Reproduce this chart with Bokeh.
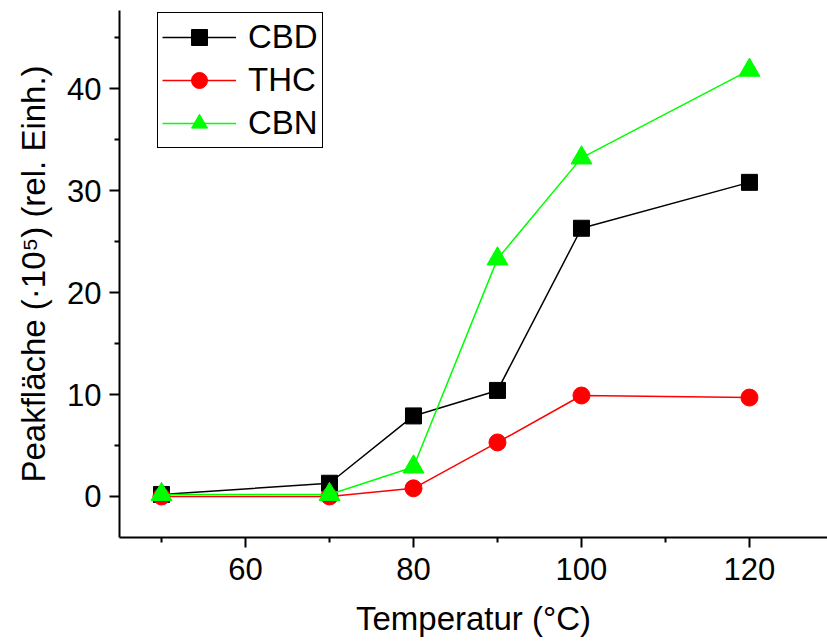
from bokeh.plotting import figure
from bokeh.models import Range1d, Legend, LegendItem, FixedTicker
from bokeh.embed import file_html
from bokeh.resources import INLINE

temperature = [50, 70, 80, 90, 100, 120]
cbd = [0.2, 1.3, 7.9, 10.4, 26.3, 30.8]
thc = [0.0, 0.0, 0.8, 5.3, 9.9, 9.7]
cbn = [0.2, 0.2, 2.9, 23.3, 33.2, 41.8]

x_ticks = [60, 80, 100, 120]
x_minor = [50, 70, 90, 110]
y_ticks = [0, 10, 20, 30, 40]
y_minor = [-5, 5, 15, 25, 35, 45]

FONT = "Liberation Sans"

p = figure(width=827, height=642, output_backend="svg", toolbar_location=None,
           x_range=Range1d(45, 129.29), y_range=Range1d(-4.02, 47.65),
           min_border_left=119, min_border_right=0, min_border_top=10, min_border_bottom=105)
p.outline_line_color = None
p.grid.visible = False
p.background_fill_color = "white"
p.border_fill_color = "white"

l1 = p.line(temperature, cbd, line_color="black", line_width=1.5)
m1 = p.scatter(temperature, cbd, marker="square", size=16, fill_color="black", line_color="black")
l2 = p.line(temperature, thc, line_color="#ff0000", line_width=1.5)
m2 = p.scatter(temperature, thc, marker="circle", size=17, fill_color="#ff0000", line_color="#ff0000")
l3 = p.line(temperature, cbn, line_color="#00ff00", line_width=1.5)
m3 = p.scatter(temperature, cbn, marker="triangle", size=21, fill_color="#00ff00", line_color="#00ff00")

for ax in (p.xaxis[0], p.yaxis[0]):
    ax.axis_line_width = 2
    ax.major_tick_line_width = 2
    ax.minor_tick_line_width = 2
    ax.major_tick_out = 10
    ax.major_tick_in = 0
    ax.minor_tick_out = 5
    ax.minor_tick_in = 0
    ax.major_label_text_font = FONT
    ax.major_label_text_font_size = "31px"
    ax.major_label_text_color = "black"
    ax.axis_label_text_font = FONT
    ax.axis_label_text_font_size = "33px"
    ax.axis_label_text_font_style = "normal"
    ax.axis_label_text_color = "black"

p.xaxis[0].ticker = FixedTicker(ticks=x_ticks, minor_ticks=x_minor)
p.yaxis[0].ticker = FixedTicker(ticks=y_ticks, minor_ticks=y_minor)
p.xaxis[0].axis_label = "Temperatur (°C)"
p.yaxis[0].axis_label = "Peakfläche (·10⁵) (rel. Einh.)"
p.xaxis[0].major_label_standoff = 10
p.xaxis[0].axis_label_standoff = 17
p.yaxis[0].major_label_standoff = 8
p.yaxis[0].axis_label_standoff = 12

legend = Legend(items=[
    LegendItem(label="CBD", renderers=[l1, m1]),
    LegendItem(label="THC", renderers=[l2, m2]),
    LegendItem(label="CBN", renderers=[l3, m3]),
], location=(38, 389))
legend.label_text_font = FONT
legend.label_text_font_size = "33px"
legend.label_text_color = "black"
legend.glyph_width = 74
legend.glyph_height = 40
legend.label_height = 40
legend.spacing = 3
legend.padding = 4
legend.margin = 0
legend.label_standoff = 12
legend.border_line_color = "black"
legend.border_line_width = 1.5
legend.border_line_alpha = 1
legend.background_fill_alpha = 1
p.add_layout(legend)

open("out.html", "w").write(file_html(p, INLINE))
